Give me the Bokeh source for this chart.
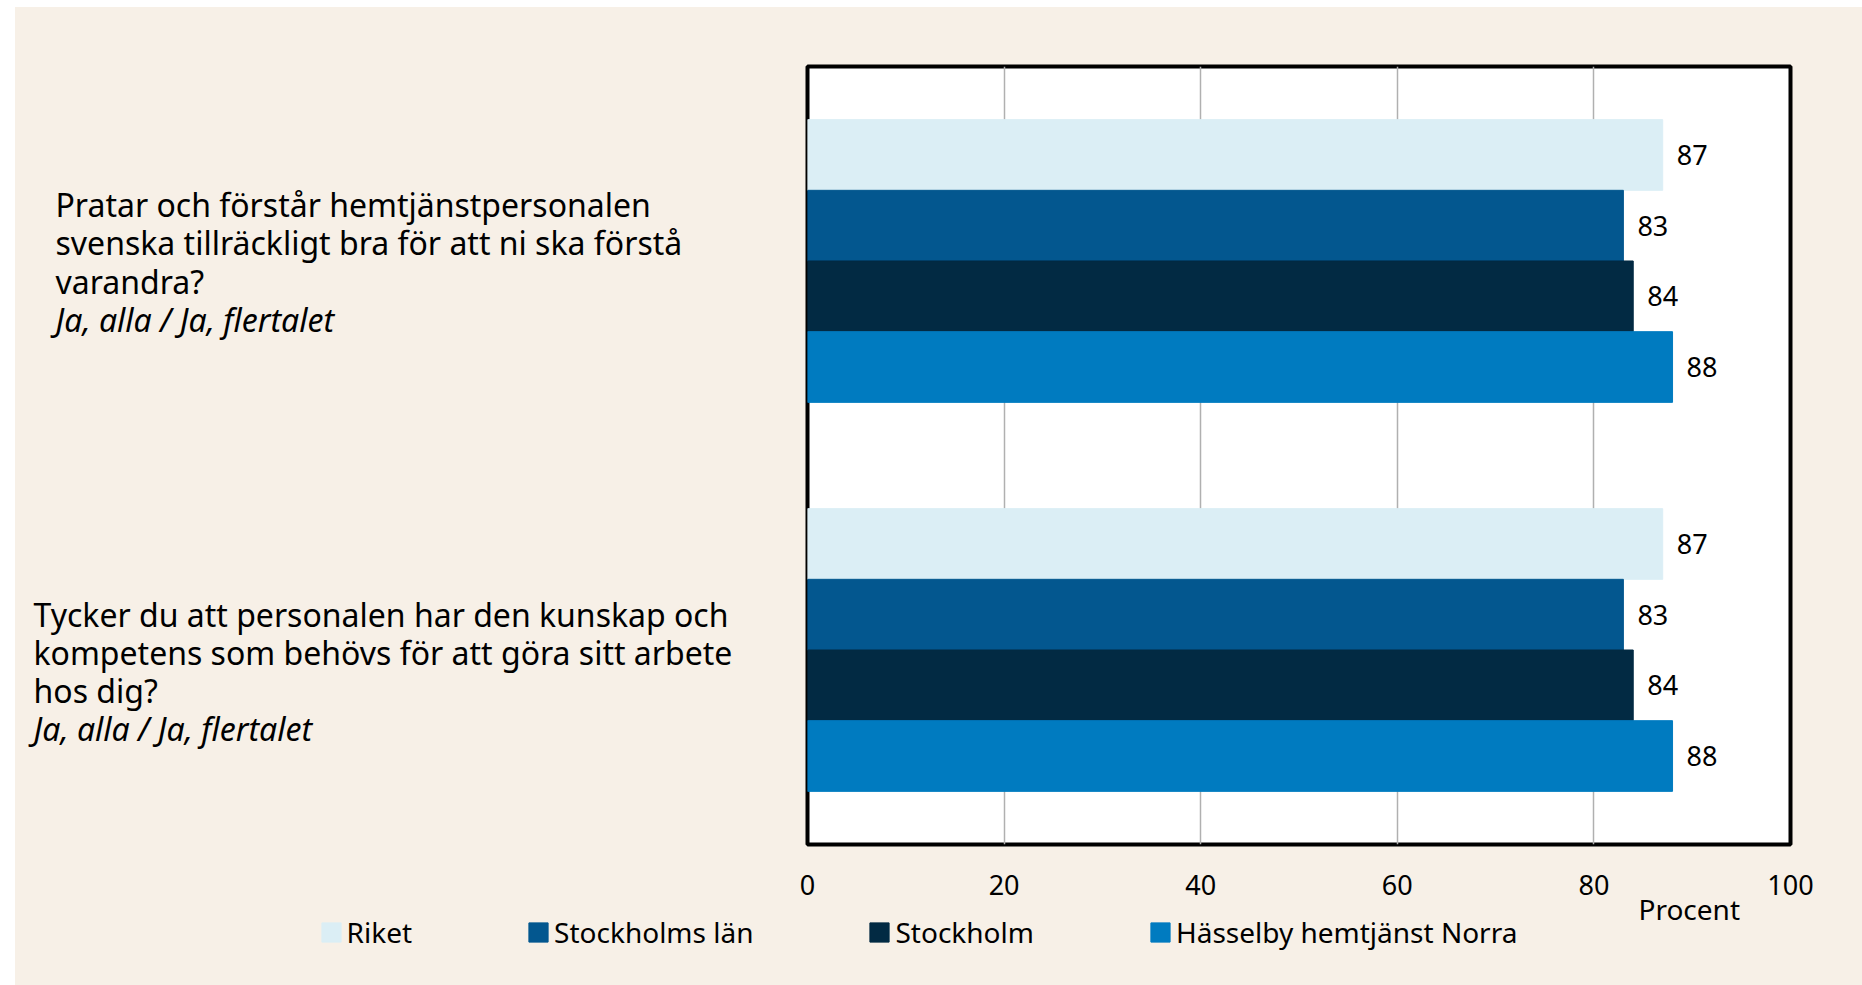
from bokeh.plotting import figure
from bokeh.layouts import column, row
from bokeh.models import Range1d, ColumnDataSource, FixedTicker, Legend, LegendItem
from bokeh.embed import file_html
from bokeh.resources import INLINE

# ---- data ----
questions = [
    ["Pratar och förstår hemtjänstpersonalen",
     "svenska tillräckligt bra för att ni ska förstå",
     "varandra?"],
    ["Tycker du att personalen har den kunskap och",
     "kompetens som behövs för att göra sitt arbete",
     "hos dig?"],
]
answer_note = ["Ja, alla / Ja, flertalet", "Ja, alla / Ja, flertalet"]
series = ["Riket", "Stockholms län", "Stockholm", "Hässelby hemtjänst Norra"]
riket = [87, 87]
stockholms_lan = [83, 83]
stockholm = [84, 84]
hasselby = [88, 88]
series_values = [riket, stockholms_lan, stockholm, hasselby]
colors = ["#dbeef5", "#03578f", "#022a43", "#007bc0"]
x_ticks = [0, 20, 40, 60, 80, 100]
x_label = "Procent"

# ---- layout / style ----
FONT = "Noto Sans"
BEIGE = "#f7f0e7"
OX, OY = 15, 7                    # white strip left / top of the beige panel
W, H = 1862 - OX, 985 - OY
FR_L, FR_R, FR_T, FR_B = 807 - OX, 1790 - OX, 66 - OY, 844 - OY
TOP_H = 903 - OY                  # chart row (includes tick labels)
BOT_TOP = 884 - OY                # bottom strip starts here (overlaps chart row)
BOT_H = H - BOT_TOP
LEFT_W = FR_L - 20
MAIN_W = W - LEFT_W
n_cat = len(questions)
px_per_y = (FR_B - FR_T) / n_cat
bar_h = 0.1817
q_x = [55 - OX, 33 - OX]                         # left edge of question text
q_line_off = [[-56.5, -18.5, 20.5, 58.5], [-35.5, 2.5, 40.5, 78.5]]

y_range = Range1d(-0.5, n_cat - 0.5)

# main chart
p = figure(width=MAIN_W, height=TOP_H, x_range=Range1d(0, 100), y_range=y_range,
           output_backend="svg", toolbar_location=None,
           min_border_left=20, min_border_right=MAIN_W - 20 - (FR_R - FR_L),
           min_border_top=FR_T, min_border_bottom=TOP_H - FR_B,
           background_fill_color="white", border_fill_color=BEIGE)
p.outline_line_color = "black"
p.outline_line_width = 4
p.ygrid.visible = False
p.yaxis.visible = False
p.xgrid.ticker = FixedTicker(ticks=[20, 40, 60, 80])
p.xgrid.grid_line_color = "#b0b0b0"
p.xgrid.grid_line_width = 1.5
p.xaxis.ticker = FixedTicker(ticks=x_ticks)
p.xaxis.axis_line_color = None
p.xaxis.major_tick_line_color = None
p.xaxis.minor_tick_line_color = None
p.xaxis.major_label_text_font = FONT
p.xaxis.major_label_text_font_size = "27px"
p.xaxis.major_label_text_color = "black"
p.xaxis.major_label_standoff = 24

centres = [n_cat - 1 - i for i in range(n_cat)]
for k, (name, vals, col) in enumerate(zip(series, series_values, colors)):
    ys = [c + (1.5 - k) * bar_h for c in centres]
    src = ColumnDataSource(dict(y=ys, right=vals, lab=[str(v) for v in vals]))
    p.hbar(y="y", left=0, right="right", height=bar_h, source=src,
           fill_color=col, line_color=col, line_width=1)
    p.text(x="right", y="y", text="lab", source=src, x_offset=14,
           text_baseline="middle", text_align="left",
           text_font={"value": FONT}, text_font_size={"value": "27px"},
           text_color="black")

# left panel with the questions
lp = figure(width=LEFT_W, height=TOP_H, x_range=Range1d(0, LEFT_W), y_range=y_range,
            output_backend="svg", toolbar_location=None,
            x_axis_location=None, y_axis_location=None,
            min_border_left=0, min_border_right=0,
            min_border_top=FR_T, min_border_bottom=TOP_H - FR_B,
            background_fill_color=BEIGE, border_fill_color=BEIGE)
lp.outline_line_color = None
lp.grid.visible = False
reg = dict(x=[], y=[], t=[])
ita = dict(x=[], y=[], t=[])
for i, lines in enumerate(questions):
    c = centres[i]
    for j, t in enumerate(lines):
        reg["x"].append(q_x[i]); reg["y"].append(c - q_line_off[i][j] / px_per_y); reg["t"].append(t)
    ita["x"].append(q_x[i]); ita["y"].append(c - q_line_off[i][3] / px_per_y); ita["t"].append(answer_note[i])
lp.text(x="x", y="y", text="t", source=ColumnDataSource(reg), text_baseline="middle",
        text_align="left", text_font={"value": FONT}, text_font_size={"value": "32px"},
        text_color="black")
lp.text(x="x", y="y", text="t", source=ColumnDataSource(ita), text_baseline="middle",
        text_align="left", text_font={"value": FONT}, text_font_size={"value": "32px"},
        text_font_style="italic", text_color="black")

# bottom strip (transparent, overlapping the tick-label band): axis title and legend
bp = figure(width=W, height=BOT_H, x_range=Range1d(0, W), y_range=Range1d(0, BOT_H),
            output_backend="svg", toolbar_location=None,
            x_axis_location=None, y_axis_location=None,
            min_border_left=0, min_border_right=0, min_border_top=0, min_border_bottom=0,
            background_fill_alpha=0, border_fill_alpha=0,
            margin=(BOT_TOP - TOP_H, 0, 0, 0))
bp.outline_line_color = None
bp.grid.visible = False
proc_x = FR_L + 89.7 * (FR_R - FR_L) / 100.0
bp.text(x=[proc_x], y=[985 - 908], text=[x_label], text_baseline="middle",
        text_align="center", text_font={"value": FONT}, text_font_size={"value": "28px"},
        text_color="black")
items = []
for name, col in zip(series, colors):
    r = bp.hbar(y=[-1000], left=[0], right=[1], height=1, fill_color=col, line_color=col)
    items.append(LegendItem(label=name, renderers=[r]))
leg = Legend(items=items, orientation="horizontal", location=(321 - OX - 2.4, 34),
             background_fill_alpha=0, border_line_color=None, padding=0, margin=0,
             spacing=114, glyph_width=24, glyph_height=24, label_standoff=4,
             label_height=24, label_text_font=FONT, label_text_font_size="28px",
             label_text_color="black")
bp.add_layout(leg)

layout = column(row(lp, p, spacing=0, styles={"background-color": BEIGE}), bp,
                spacing=0, margin=(OY, 0, 0, OX), styles={"background-color": BEIGE})
open("out.html", "w").write(file_html(layout, INLINE))
